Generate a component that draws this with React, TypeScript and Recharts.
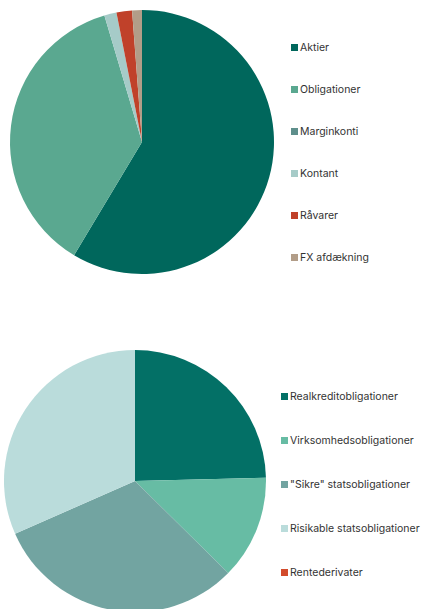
import React from "react";
import { Legend, Pie, PieChart, Cell } from "recharts";

// Øverste cirkel: porteføljefordeling (andel i %)
const assetNames = ["Aktier", "Obligationer", "Marginkonti", "Kontant", "Råvarer", "FX afdækning"];
const assetValues = [58.6, 36.8, 0, 1.5, 1.9, 1.2];
const assetColors = ["#00675C", "#5AA890", "#5E8F8C", "#A6CBC8", "#C0412A", "#B29D88"];

// Nederste cirkel: obligationsfordeling (andel i %)
const bondNames = [
  "Realkreditobligationer",
  "Virksomhedsobligationer",
  "\"Sikre\" statsobligationer",
  "Risikable statsobligationer",
  "Rentederivater",
];
const bondValues = [24.6, 12.8, 31.0, 31.6, 0];
const bondColors = ["#037066", "#67BCA4", "#72A4A1", "#BADCDB", "#D24B2C"];

const assetData = assetNames.map((name, i) => ({ name, value: assetValues[i] }));
const bondData = bondNames.map((name, i) => ({ name, value: bondValues[i] }));

const FONT = "Inter, 'Noto Sans', sans-serif";
const NO_MARGIN = { top: 0, right: 0, bottom: 0, left: 0 };

// legend in the data's own order (recharts sorts by name otherwise)
function makeLegend(order: string[], gap: number) {
  return (props: any) => {
    const items = [...(props.payload || [])].sort(
      (a: any, b: any) => order.indexOf(a.value) - order.indexOf(b.value)
    );
    return (
      <div style={{ fontFamily: FONT, fontSize: 10.5, color: "#333" }}>
        {items.map((it: any, i: number) => (
          <div
            key={i}
            style={{ display: "flex", alignItems: "center", height: 14, marginBottom: gap - 14 }}
          >
            <span
              style={{
                display: "inline-block",
                width: 7,
                height: 7,
                background: it.color,
                marginRight: 2,
              }}
            />
            <span>{it.value}</span>
          </div>
        ))}
      </div>
    );
  };
}

export default function App() {
  return (
    <div style={{ position: "absolute", left: 0, top: 0, width: 423, height: 609, background: "#fff", overflow: "hidden" }}>
      <div style={{ position: "absolute", left: 0, top: 0 }}>
        <PieChart width={423} height={290} margin={NO_MARGIN}>
          <Pie
            data={assetData}
            dataKey="value"
            nameKey="name"
            cx={142}
            cy={142}
            outerRadius={132}
            startAngle={90}
            endAngle={-270}
            stroke="none"
            isAnimationActive={false}
          >
            {assetData.map((d, i) => (
              <Cell key={d.name} fill={assetColors[i]} />
            ))}
          </Pie>
          <Legend
            layout="vertical"
            itemSorter={null as any}
            content={makeLegend(assetNames, 42)}
            wrapperStyle={{ position: "absolute", left: 291, top: 40, width: 130 }}
          />
        </PieChart>
      </div>
      <div style={{ position: "absolute", left: 0, top: 340 }}>
        <PieChart width={423} height={269} margin={NO_MARGIN}>
          <Pie
            data={bondData}
            dataKey="value"
            nameKey="name"
            cx={135}
            cy={141}
            outerRadius={131}
            startAngle={90}
            endAngle={-270}
            stroke="none"
            isAnimationActive={false}
          >
            {bondData.map((d, i) => (
              <Cell key={d.name} fill={bondColors[i]} />
            ))}
          </Pie>
          <Legend
            layout="vertical"
            itemSorter={null as any}
            content={makeLegend(bondNames, 44)}
            wrapperStyle={{ position: "absolute", left: 281, top: 49, width: 142 }}
          />
        </PieChart>
      </div>
    </div>
  );
}
